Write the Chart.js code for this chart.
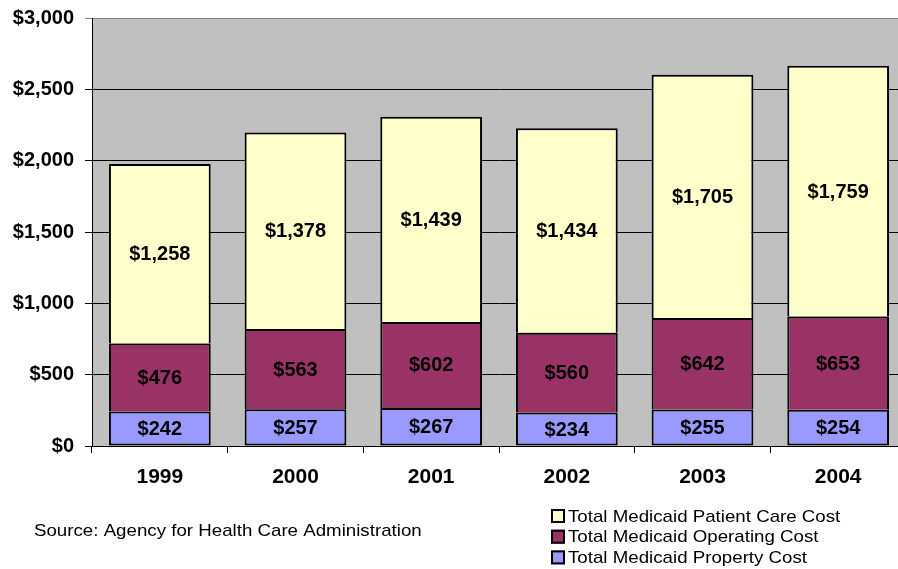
<!DOCTYPE html>
<html>
<head>
<meta charset="utf-8">
<script src="https://cdn.jsdelivr.net/npm/chart.js@4/dist/chart.umd.min.js"></script>
<style>
html,body{margin:0;padding:0;background:#fff;overflow:hidden;width:898px;height:569px;}
#wrap{position:absolute;left:0;top:0;width:910px;height:569px;}
</style>
</head>
<body>
<div id="wrap"><canvas id="c" width="910" height="569"></canvas></div>
<script>
const years = ['1999','2000','2001','2002','2003','2004'];
const propertyCost = [242, 257, 267, 234, 255, 254];
const operatingCost = [476, 563, 602, 560, 642, 653];
const patientCareCost = [1258, 1378, 1439, 1434, 1705, 1759];
const seriesNames = ['Total Medicaid Property Cost','Total Medicaid Operating Cost','Total Medicaid Patient Care Cost'];
const seriesColors = ['#9999FF','#993366','#FFFFCC'];
const sourceText = 'Source: Agency for Health Care Administration';
const yMax = 3000, yStep = 500;

const FONT = '"Liberation Sans", Arial, sans-serif';

const bgPlugin = {
  id: 'plotBg',
  beforeDraw(chart) {
    const {ctx, chartArea: a} = chart;
    ctx.save();
    ctx.fillStyle = '#C0C0C0';
    ctx.fillRect(a.left, a.top, a.right - a.left, a.bottom - a.top);
    ctx.restore();
  }
};

const fmt = v => '$' + v.toLocaleString('en-US');

const labelPlugin = {
  id: 'segLabels',
  afterDatasetsDraw(chart) {
    const ctx = chart.ctx;
    ctx.save();
    ctx.font = 'bold 20px ' + FONT;
    ctx.fillStyle = '#000';
    ctx.textAlign = 'center';
    ctx.textBaseline = 'middle';
    chart.data.datasets.forEach((ds, i) => {
      const meta = chart.getDatasetMeta(i);
      meta.data.forEach((el, j) => {
        const y = (el.y + el.base) / 2;
        ctx.fillText(fmt(ds.data[j]), el.x, y + 1);
      });
    });
    ctx.restore();
  }
};

function stretchedText(ctx, text, x, y, sx) {
  ctx.save();
  ctx.translate(x, y);
  ctx.scale(sx, 1);
  ctx.fillText(text, 0, 0);
  ctx.restore();
}

const footPlugin = {
  id: 'foot',
  afterDraw(chart) {
    const ctx = chart.ctx;
    ctx.save();
    ctx.fillStyle = '#000';
    ctx.font = '17px ' + FONT;
    ctx.textBaseline = 'middle';
    ctx.textAlign = 'left';
    stretchedText(ctx, sourceText, 34, 531, 1.1);
    const n = chart.data.datasets.length;
    for (let k = 0; k < n; k++) {
      const ds = chart.data.datasets[n - 1 - k];
      const cy = 516 + k * 20.7;
      ctx.fillStyle = ds.backgroundColor;
      ctx.fillRect(551, cy - 7, 14, 14);
      ctx.strokeStyle = '#000';
      ctx.lineWidth = 2;
      ctx.strokeRect(552, cy - 6, 12, 12);
      ctx.fillStyle = '#000';
      stretchedText(ctx, ds.label, 568, cy + 1, 1.1);
    }
    ctx.restore();
  }
};

new Chart(document.getElementById('c'), {
  type: 'bar',
  data: {
    labels: years,
    datasets: [
      {label: seriesNames[0], data: propertyCost, backgroundColor: seriesColors[0], borderSkipped: false},
      {label: seriesNames[1], data: operatingCost, backgroundColor: seriesColors[1], borderSkipped: 'bottom'},
      {label: seriesNames[2], data: patientCareCost, backgroundColor: seriesColors[2], borderSkipped: 'bottom'}
    ].map(d => Object.assign(d, {borderColor: '#000', borderWidth: 2, barPercentage: 0.75, categoryPercentage: 1}))
  },
  options: {
    responsive: false,
    animation: false,
    layout: {padding: {top: 18, right: 4, bottom: 0, left: 0}},
    plugins: {legend: {display: false}, tooltip: {enabled: false}},
    scales: {
      x: {
        stacked: true,
        offset: true,
        grid: {drawOnChartArea: false, drawTicks: true, tickLength: 7, color: '#000', lineWidth: 1, offset: true},
        border: {color: '#000', width: 1},
        ticks: {color: '#000', font: {family: FONT, size: 21, weight: 'bold'}, padding: 12},
        afterFit(s) { s.height = 123; s.paddingLeft = 0; s.paddingRight = 0; }
      },
      y: {
        stacked: true,
        min: 0, max: yMax,
        grid: {color: c => (c.tick && c.tick.value === yMax) ? '#808080' : '#000', lineWidth: 1, tickLength: 7, drawTicks: true},
        border: {color: '#000', width: 1},
        ticks: {stepSize: yStep, color: '#000', padding: 11, font: {family: FONT, size: 20, weight: 'bold'}, callback: v => fmt(v)},
        afterFit(s) { s.width = 92; s.paddingTop = 0; s.paddingBottom = 0; }
      }
    }
  },
  plugins: [bgPlugin, labelPlugin, footPlugin]
});
</script>
</body>
</html>
